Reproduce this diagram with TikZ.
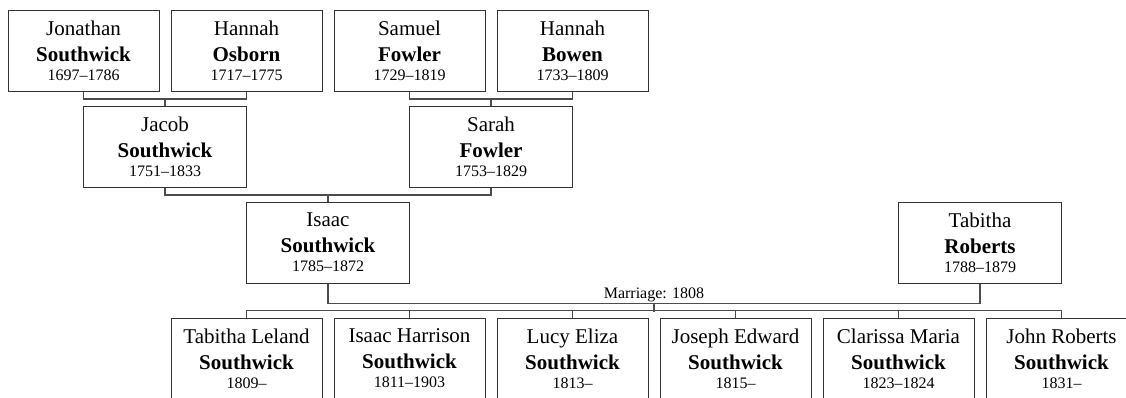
\documentclass[tikz,border=0pt]{standalone}
\usepackage{fontspec}
\setmainfont{Liberation Serif}
\usetikzlibrary{calc,positioning}
\newcommand{\yrs}[1]{{\fontsize{8}{9.5}\selectfont #1}}

\begin{document}
\begin{tikzpicture}[x=0.5pt,y=-0.5pt,
    person/.style={draw=black!80,line width=0.5pt,minimum width=75.5pt,minimum height=40.5pt,
      inner sep=0pt,align=center,font=\fontsize{10.5}{13}\selectfont},
    wide/.style={person,minimum width=81.5pt},
    link/.style={draw=black!70,line width=0.7pt}]
      \useasboundingbox (0,0) rectangle (1126,397);
      \clip (0,0) rectangle (1126,397);
      \node[person] (jonathan) at (83.5,50.5) {Jonathan\\\textbf{Southwick}\\[-3.5pt]\yrs{1697--1786}};
      \node[person] (hannahO) at (246.5,50.5) {Hannah\\\textbf{Osborn}\\[-3.5pt]\yrs{1717--1775}};
      \node[person] (samuel) at (409.5,50.5) {Samuel\\\textbf{Fowler}\\[-3.5pt]\yrs{1729--1819}};
      \node[person] (hannahB) at (572.5,50.5) {Hannah\\\textbf{Bowen}\\[-3.5pt]\yrs{1733--1809}};
      \node[wide] (jacob) at (165,146.5) {Jacob\\\textbf{Southwick}\\[-3.5pt]\yrs{1751--1833}};
      \node[wide] (sarah) at (491,146.5) {Sarah\\\textbf{Fowler}\\[-3.5pt]\yrs{1753--1829}};
      \node[wide] (isaac) at (328,242.5) {Isaac\\\textbf{Southwick}\\[-3.5pt]\yrs{1785--1872}};
      \node[wide] (tabitha) at (980,242.5) {Tabitha\\\textbf{Roberts}\\[-3.5pt]\yrs{1788--1879}};
      \node[person] (c1) at (246.5,358.5) {Tabitha Leland\\\textbf{Southwick}\\[-3.5pt]\yrs{1809--}};
      \node[person] (c2) at (409.5,358.5) {Isaac Harrison\\\textbf{Southwick}\\[-3.5pt]\yrs{1811--1903}};
      \node[person] (c3) at (572.5,358.5) {Lucy Eliza\\\textbf{Southwick}\\[-3.5pt]\yrs{1813--}};
      \node[person] (c4) at (735.5,358.5) {Joseph Edward\\\textbf{Southwick}\\[-3.5pt]\yrs{1815--}};
      \node[person] (c5) at (898.5,358.5) {Clarissa Maria\\\textbf{Southwick}\\[-3.5pt]\yrs{1823--1824}};
      \node[person] (c6) at (1061.5,358.5) {John Roberts\\\textbf{Southwick}\\[-3.5pt]\yrs{1831--}};
      \draw[link] (jonathan.south) -- ++(0,-3.75pt) -| (hannahO.south);
      \draw[link] (jacob.north) -- ++(0,3.75pt);
      \draw[link] (samuel.south) -- ++(0,-3.75pt) -| (hannahB.south);
      \draw[link] (sarah.north) -- ++(0,3.75pt);
      \draw[link] (jacob.south) -- ++(0,-3.75pt) -| (sarah.south);
      \draw[link] (isaac.north) -- ++(0,4pt);
      \draw[link] (isaac.south) -- ++(0,-10pt) -| (tabitha.south);
      \coordinate (wed) at ($(isaac.south)!0.5!(tabitha.south)+(0,-10pt)$);
      \node[inner sep=0pt,above=0.8pt of wed,font=\fontsize{8}{9.5}\selectfont] (marriage) {Marriage: 1808};
      \draw[link] (wed) -- ++(0,-4pt);
      \draw[link] (c1.north) -- ++(0,3.5pt) -| (c6.north);
      \foreach \c in {c2,c3,c4,c5}
        \draw[link] (\c.north) -- ++(0,3.5pt);
\end{tikzpicture}
\end{document}
